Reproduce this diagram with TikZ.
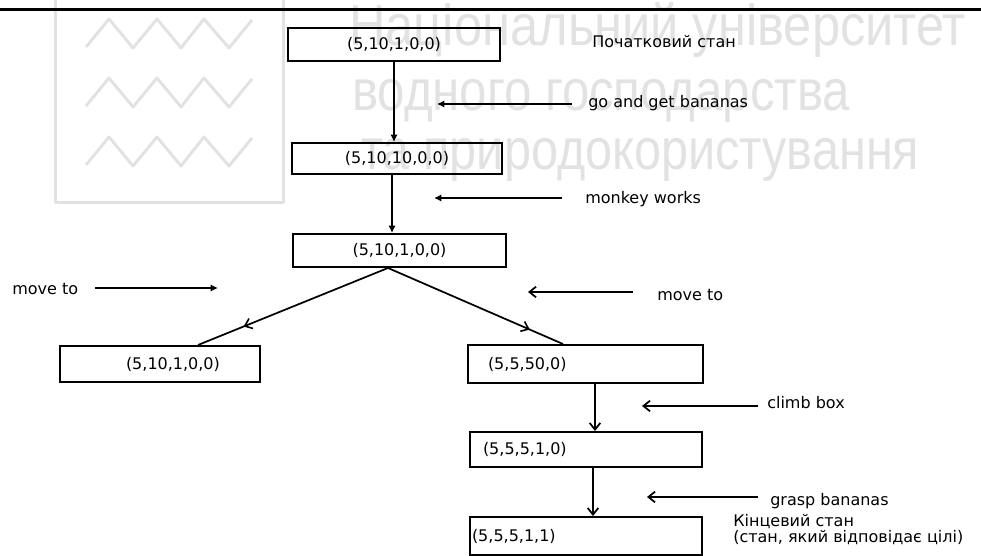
\documentclass[tikz,border=0pt]{standalone}
\usepackage{fontspec}
\usepackage{graphicx}
\setmainfont{DejaVu Sans}
\newfontfamily\wmfont{Liberation Sans}
\usetikzlibrary{arrows.meta,calc,decorations.markings}
\definecolor{wmgray}{gray}{0.885}
\newdimen\pxu
\pxu=0.75pt

\begin{document}
\begin{tikzpicture}[x=0.75pt,y=-0.75pt,
  every node/.style={font=\fontsize{12}{10.5}\selectfont},
  state/.style={draw, line width=1.5pt, inner sep=0pt},
  lbl/.style={anchor=base west, inner sep=0pt},
  wmtext/.style={anchor=base west, inner sep=0pt, text=wmgray,
                 font=\wmfont\fontsize{43.4}{50}\selectfont},
  conn/.style={line width=1.5pt},
  diag/.style={line width=1.3pt},
  filledtip/.style={-{Latex[length=5.5pt,width=5.5pt]}},
  barbtip/.style={-{Straight Barb[length=5pt,width=8pt,line width=1.3pt]}},
  midarrow/.style={postaction={decorate},
    decoration={markings,
      mark=at position #1 with {\arrow{Straight Barb[length=5pt,width=8pt,line width=1.2pt]}}}}
]
\useasboundingbox (0,0) rectangle (981,556);

% university watermark: logo and name
\begin{scope}[draw=wmgray, line width=2.25pt, line join=round]
  \draw (55,-5) -- (55,202) -- (283,202) -- (283,-5);
  \foreach \dy in {0,59,118}
    \draw (86,47+\dy) -- (109,19+\dy) -- (133,48+\dy) -- (157,19+\dy)
          -- (181,48+\dy) -- (204,19+\dy) -- (229,48+\dy) -- (252,20+\dy);
\end{scope}
\node[wmtext] (wm1) at (349,46)  {\scalebox{0.875}[1]{Національний університет}};
\node[wmtext] (wm2) at (352,111) {\scalebox{0.85}[1]{водного господарства}};
\node[wmtext] (wm3) at (361,170) {\scalebox{0.84}[1]{та природокористування}};

% top rule
\draw[line width=2.25pt] (0,10) -- (981,10);

% states
\node[state, minimum width=212*0.75pt, minimum height=33*0.75pt] (A) at (394,44.5) {(5,10,1,0,0)};
\node[state, minimum width=210*0.75pt, minimum height=31*0.75pt] (B) at (397,158.5) {(5,10,10,0,0)};
\node[state, minimum width=213*0.75pt, minimum height=33*0.75pt] (C) at (399.5,250.5) {(5,10,1,0,0)};
\node[state, minimum height=36*0.75pt] (D) at (160,364)
  {\makebox[200\pxu][l]{\hspace{66\pxu}(5,10,1,0,0)}};
\node[state, minimum height=38*0.75pt] (E) at (585.5,364)
  {\makebox[235\pxu][l]{\hspace{20\pxu}(5,5,50,0)}};
\node[state, minimum height=35*0.75pt] (F) at (586,449.5)
  {\makebox[232\pxu][l]{\hspace{13\pxu}(5,5,5,1,0)}};
\node[state, minimum height=38*0.75pt] (G) at (586,536)
  {\makebox[232\pxu][l]{\hspace{2\pxu}(5,5,5,1,1)}};

% transitions between states
\draw[conn, filledtip] (A.south) -- (A.south |- B.north);
\draw[conn, filledtip] ($(B.south)+(-5,0)$) -- ($(C.north)+(-7.5,0)$);
\draw[diag, midarrow=0.76] ($(C.south)+(-11.5,0)$) -- ($(D.north)+(38,0)$);
\draw[diag, midarrow=0.81] ($(C.south)+(-11.5,0)$) -- ($(E.north)+(-22.5,0)$);
\draw[conn, barbtip] ($(E.south)+(9.5,0)$) -- ($(F.north)+(9,0)$);
\draw[conn, barbtip] ($(F.south)+(7,0)$) -- ($(G.north)+(7,0)$);

% state captions
\node[lbl] (start) at (592,48) {Початковий стан};
\node[lbl, align=left] (goal) at (733,542) {Кінцевий стан\\(стан, який відповідає цілі)};

% operator labels with their pointers
\node[lbl] (lgo) at (588,108) {go and get bananas};
\coordinate (tgo) at (437,104);
\draw[conn, filledtip] ($(lgo.west |- tgo)+(-16,0)$) -- (tgo);

\node[lbl] (lmw) at (585,203) {monkey works};
\coordinate (tmw) at (434,198);
\draw[conn, filledtip] ($(lmw.west |- tmw)+(-23,0)$) -- (tmw);

\node[lbl] (lml) at (12,294) {move to};
\coordinate (tml) at (218,288);
\draw[conn, filledtip] ($(lml.east |- tml)+(17,0)$) -- (tml);

\node[lbl] (lmr) at (657,300) {move to};
\coordinate (tmr) at (528,292);
\draw[conn, barbtip] ($(lmr.west |- tmr)+(-24,0)$) -- (tmr);

\node[lbl] (lcb) at (767,408) {climb box};
\coordinate (tcb) at (642,406);
\draw[conn, barbtip] ($(lcb.west |- tcb)+(-9,0)$) -- (tcb);

\node[lbl] (lgb) at (770,505) {grasp bananas};
\coordinate (tgb) at (647,497);
\draw[conn, barbtip] ($(lgb.west |- tgb)+(-12,0)$) -- (tgb);
\end{tikzpicture}
\end{document}
